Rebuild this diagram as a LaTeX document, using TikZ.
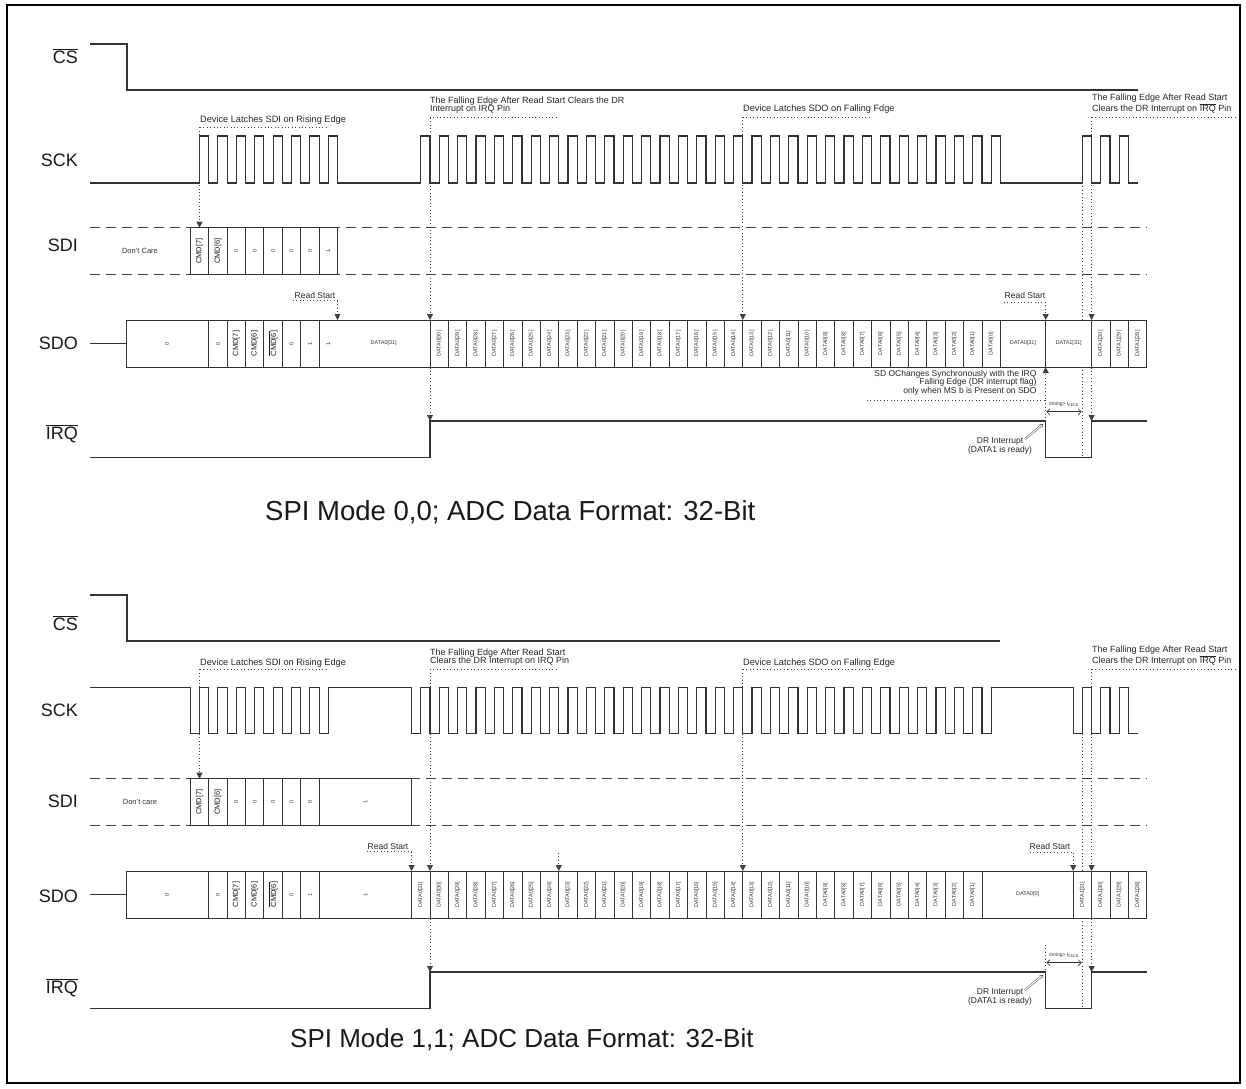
\documentclass[tikz,border=0pt]{standalone}
\usepackage{fontspec}
\setmainfont{Liberation Sans}
\usetikzlibrary{arrows.meta}

\tikzset{
  wave/.style={line width=1.1pt, black!80},
  cellline/.style={line width=0.9pt, black!80},
  dcline/.style={line width=1pt, black!75, dash pattern=on 10pt off 6pt},
  guide/.style={black!75, line width=0.8pt, dash pattern=on 0.8pt off 2.6pt},
  tipdown/.style={-{Triangle[length=6pt,width=6pt]}},
  note/.style={font=\fontsize{9}{8.4}\selectfont, text=black!85, inner sep=0pt, align=left},
  notert/.style={note, align=right},
  siglabel/.style={font=\fontsize{18}{20}\selectfont, text=black!90, anchor=east, inner sep=0pt},
  title/.style={font=\fontsize{26}{28}\selectfont, text=black!90, anchor=west, inner sep=0pt},
  bitlab/.style={rotate=90, font=\fontsize{5.5}{6}\selectfont, text=black!80, inner sep=0pt},
  cmdlab/.style={rotate=90, font=\fontsize{7.5}{8}\selectfont, text=black!90, inner sep=0pt},
  datalab/.style={font=\fontsize{5.5}{6}\selectfont, text=black!80, inner sep=0pt},
}

\begin{document}
\begin{tikzpicture}[x=1pt,y=-1pt]
  \useasboundingbox (0,0) rectangle (1246,1088);
  \draw[line width=1.6pt] (7,5) rectangle (1240,1083);

  % ---------- SPI mode 0,0 ----------
  \begin{scope}
    \node[siglabel] (cs0) at (78,56) {$\overline{\mbox{CS}}$};
    \node[siglabel] (sck0) at (78,160) {SCK};
    \node[siglabel] (sdi0) at (78,245) {SDI};
    \node[siglabel] (sdo0) at (78,343) {SDO};
    \node[siglabel] (irq0) at (78,434) {$\overline{\mbox{IRQ}}$};

    % CS and clock
    \draw[wave] (90,44) -| (127,90) -- (1138,90);
    \draw[wave] (90,183)
      \foreach \x in {199.5,217.9,...,329}{ -- (\x,183) -- (\x,136) -- ++(9.2,0) -- ++(0,47) }
      \foreach \x in {420.8,439.2,...,992}{ -- (\x,183) -- (\x,136) -- ++(9.2,0) -- ++(0,47) }
      \foreach \x in {1082.4,1100.8,1119.2}{ -- (\x,183) -- (\x,136) -- ++(9.2,0) -- ++(0,47) }
      -- (1138,183);

    % SDI
    \draw[dcline] (90,227.7) -- (1146.7,227.7) (90,274) -- (1146.7,274);
    \foreach \x in {190.3,208.7,...,320} \draw[cellline] (\x,227.7) rectangle ++(18.4,46.3);
    \node[datalab,font=\fontsize{7.5}{8}\selectfont] (dc0) at (140,251) {Don't Care};
    \foreach \i/\lab in {0/CMD[7],1/CMD[6]} \node[cmdlab] (sdic\i) at ({199.5+18.4*\i},251) {\lab};
    \foreach \i/\lab in {2/0,3/0,4/0,5/0,6/0,7/1} \node[bitlab] (sdib\i) at ({199.5+18.4*\i},251) {\lab};

    % SDO
    \draw[wave] (90,343.5) -- (126,343.5);
    \draw[cellline] (126,320) rectangle (1146.8,367);
    \foreach \x in {208.7,227.1,...,320} \draw[cellline] (\x,320) -- (\x,367);
    \foreach \x in {430,448.4,...,1001} \draw[cellline] (\x,320) -- (\x,367);
    \foreach \x in {1045.7,1091.6,1110,1128.4} \draw[cellline] (\x,320) -- (\x,367);
    \node[bitlab] (sdoz0) at (167,343.5) {0};
    \node[bitlab] (sdoz1) at (217.9,343.5) {0};
    \node[cmdlab] (sdoc7) at (236.3,343.5) {CMD[7]};
    \node[cmdlab] (sdoc6) at (254.7,343.5) {CMD[6]};
    \node[cmdlab] (sdon6) at (273.1,343.5) {$\overline{\mbox{CMD[6]}}$};
    \foreach \i/\lab in {0/0,1/1,2/1} \node[bitlab] (sdob\i) at ({291.5+18.4*\i},343.5) {\lab};
    \node[datalab] (d31a) at (383.7,343.5) {DATA0[31]};
    \foreach \k in {0,...,30}{
      \pgfmathtruncatemacro\n{30-\k}
      \node[bitlab] (d0b\k) at ({439.2+18.4*\k},343.5) {DATA0[\n]};
    }
    \node[datalab] (d31b) at (1023,343.5) {DATA0[31]};
    \node[datalab] (d131) at (1068.6,343.5) {DATA1[31]};
    \foreach \i/\n in {0/30,1/29,2/28} \node[bitlab] (d1b\i) at ({1100.8+18.4*\i},343.5) {DATA1[\n]};

    % IRQ
    \draw[wave] (90,457.7) -| (430,421) -| (1045.7,457.7) -| (1091.6,421) -- (1146.7,421);

    % annotations
    \node[note,anchor=west,font=\fontsize{9.2}{10}\selectfont] (lat0) at (200,120) {Device Latches SDI on Rising Edge};
    \draw[guide] (200,127.3) -- (329,127.3);
    \draw[guide,tipdown] (199.5,127.3) -- (199.5,227.7);

    \node[note,anchor=south west] (fe0) at (430,114) {The Falling Edge After Read Start Clears the DR\\Interrupt on IRQ Pin};
    \draw[guide] (430,117.7) -- (559,117.7);
    \draw[guide,tipdown] (430,117.7) -- (430,320);
    \draw[guide,tipdown] (430,320) -- (430,421);

    \node[note,anchor=west,font=\fontsize{9.2}{10}\selectfont] (lso0) at (743,109.3) {Device Latches SDO on Falling Fdge};
    \draw[guide] (743,117) -- (871.7,117);
    \draw[guide,tipdown] (742.8,117) -- (742.8,320);

    \node[note,anchor=south west] (fr0) at (1092,113.5) {The Falling Edge After Read Start\\Clears the DR Interrupt on $\overline{\mbox{IRQ}}$ Pin};
    \draw[guide] (1092,117.3) -- (1238,117.3);
    \draw[guide,tipdown] (1091.6,117.3) -- (1091.6,320);
    \draw[guide,tipdown] (1091.6,320) -- (1091.6,421);

    \draw[guide] (1082.4,183) -- (1082.4,320) (1082.4,367) -- (1082.4,457.7);

    \node[note,anchor=center,font=\fontsize{8.5}{9}\selectfont] (rs0) at (315,295) {Read Start};
    \draw[guide] (293,300.7) -- (337.5,300.7);
    \draw[guide,tipdown] (337.5,300.7) -- (337.5,320);

    \node[note,anchor=center,font=\fontsize{8.5}{9}\selectfont] (rs1) at (1025,295) {Read Start};
    \draw[guide] (1004,302) -- (1045.7,302);
    \draw[guide,tipdown] (1045.7,302) -- (1045.7,320);

    \node[notert,anchor=north east,font=\fontsize{8.5}{8.4}\selectfont] (sync0) at (1036.7,370) {SD OChanges Synchronously with the IRQ\\Falling Edge (DR interrupt flag)\\only when MS b is Present on SDO};
    \draw[guide,tipdown] (866.7,400) -| (1045.7,367);
    \draw[guide] (1045.7,400) -- (1045.7,421);

    \node[note,align=center,anchor=center,font=\fontsize{8.5}{8.6}\selectfont] (dr0) at (1000,446) {DR Interrupt\\(DATA1 is ready)};
    \draw[black!80, double, double distance=1.1pt, line width=0.4pt, -{Implies}] (1025,439) -- (1043,424);
    \draw[black!80, line width=0.6pt, {Straight Barb[length=3pt]}-{Straight Barb[length=3pt]}] (1046.5,411.7) -- (1081.6,411.7);
    \node[datalab,font=\fontsize{5}{5}\selectfont] (tm0) at (1064,404) {timing> t\textsubscript{cccs}};

    \node[title,font=\fontsize{27.5}{29}\selectfont] (ttl0) at (265,512) {SPI Mode 0,0; ADC Data Format: 32-Bit};
  \end{scope}

  % ---------- SPI mode 1,1 ----------
  \begin{scope}[shift={(0,551)}]
    \node[siglabel] (cs1) at (78,72) {$\overline{\mbox{CS}}$};
    \node[siglabel] (sck1) at (78,159) {SCK};
    \node[siglabel] (sdi1) at (78,250) {SDI};
    \node[siglabel] (sdo1) at (78,345) {SDO};
    \node[siglabel] (irq1) at (78,437) {$\overline{\mbox{IRQ}}$};

    % CS and clock
    \draw[wave] (90,44) -| (127,90) -- (1000,90);
    \draw[wave] (90,136.5)
      \foreach \x in {190.3,208.7,...,320}{ -- (\x,136.5) -- (\x,182.5) -- ++(9.2,0) -- ++(0,-46) }
      \foreach \x in {411.6,430,...,983}{ -- (\x,136.5) -- (\x,182.5) -- ++(9.2,0) -- ++(0,-46) }
      \foreach \x in {1073.2,1091.6,1110}{ -- (\x,136.5) -- (\x,182.5) -- ++(9.2,0) -- ++(0,-46) }
      -- (1128.4,136.5) -- (1128.4,182.5) -- (1138,182.5);

    % SDI
    \draw[dcline] (90,227.7) -- (1146.7,227.7) (90,274) -- (1146.7,274);
    \foreach \x in {190.3,208.7,...,310} \draw[cellline] (\x,227.7) rectangle ++(18.4,46.3);
    \draw[cellline] (319.1,227.7) rectangle (411.6,274);
    \node[datalab,font=\fontsize{7.5}{8}\selectfont] (dc1) at (140,251) {Don't care};
    \foreach \i/\lab in {0/CMD[7],1/CMD[6]} \node[cmdlab] (sdid\i) at ({199.5+18.4*\i},251) {\lab};
    \foreach \i in {2,...,6} \node[bitlab] (sdie\i) at ({199.5+18.4*\i},251) {0};
    \node[bitlab] (sdie7) at (365.4,251) {1};

    % SDO
    \draw[wave] (90,343.5) -- (126,343.5);
    \draw[cellline] (126,320) rectangle (1146.8,367);
    \foreach \x in {208.7,227.1,...,320} \draw[cellline] (\x,320) -- (\x,367);
    \foreach \x in {411.6,430,...,983} \draw[cellline] (\x,320) -- (\x,367);
    \foreach \x in {1073.2,1091.6,1110,1128.4} \draw[cellline] (\x,320) -- (\x,367);
    \node[bitlab] (sdpz0) at (167,343.5) {0};
    \node[bitlab] (sdpz1) at (217.9,343.5) {0};
    \node[cmdlab] (sdpc7) at (236.3,343.5) {CMD[7]};
    \node[cmdlab] (sdpc6) at (254.7,343.5) {CMD[6]};
    \node[cmdlab] (sdpn6) at (273.1,343.5) {$\overline{\mbox{CMD[6]}}$};
    \node[bitlab] (sdpb0) at (291.5,343.5) {0};
    \node[bitlab] (sdpb1) at (309.9,343.5) {1};
    \node[bitlab] (sdpb2) at (365.4,343.5) {1};
    \foreach \k in {0,...,30}{
      \pgfmathtruncatemacro\n{31-\k}
      \node[bitlab] (e0b\k) at ({420.8+18.4*\k},343.5) {DATA0[\n]};
    }
    \node[datalab] (e00) at (1027.6,343.5) {DATA0[0]};
    \foreach \i/\n in {0/31,1/30,2/29,3/28} \node[bitlab] (e1b\i) at ({1082.4+18.4*\i},343.5) {DATA1[\n]};

    % IRQ
    \draw[wave] (90,457.7) -| (430,421) -| (1045.7,457.7) -| (1091.6,421) -- (1146.7,421);

    % annotations
    \node[note,anchor=west,font=\fontsize{9.2}{10}\selectfont] (lat1) at (200,112.3) {Device Latches SDI on Rising Edge};
    \draw[guide] (200,118.3) -- (328,118.3);
    \draw[guide,tipdown] (199.5,118.3) -- (199.5,227.7);

    \node[note,anchor=south west] (fe1) at (430,115) {The Falling Edge After Read Start\\Clears the DR Interrupt on IRQ Pin};
    \draw[guide] (430,118.3) -- (559,118.3);
    \draw[guide,tipdown] (430,118.3) -- (430,320);
    \draw[guide,tipdown] (430,320) -- (430,421);
    \draw[guide,tipdown] (558.8,302) -- (558.8,320);

    \node[note,anchor=west,font=\fontsize{9.2}{10}\selectfont] (lso1) at (743,112.3) {Device Latches SDO on Falling Edge};
    \draw[guide] (743,118.3) -- (873,118.3);
    \draw[guide,tipdown] (742.8,118.3) -- (742.8,320);

    \node[note,anchor=south west] (fr1) at (1092,114.5) {The Falling Edge After Read Start\\Clears the DR Interrupt on $\overline{\mbox{IRQ}}$ Pin};
    \draw[guide] (1092,118) -- (1238,118);
    \draw[guide,tipdown] (1091.6,118) -- (1091.6,320);
    \draw[guide,tipdown] (1091.6,320) -- (1091.6,421);

    \draw[guide] (1082.4,182.5) -- (1082.4,320) (1082.4,367) -- (1082.4,457.7);

    \node[note,anchor=center,font=\fontsize{8.5}{9}\selectfont] (rs2) at (388,295.7) {Read Start};
    \draw[guide] (367,300.7) -- (411.6,300.7);
    \draw[guide,tipdown] (411.6,300.7) -- (411.6,320);

    \node[note,anchor=center,font=\fontsize{8.5}{9}\selectfont] (rs3) at (1050,295.7) {Read Start};
    \draw[guide] (1030,301.7) -- (1073.2,301.7);
    \draw[guide,tipdown] (1073.2,301.7) -- (1073.2,320);

    \draw[guide] (1045.7,394) -- (1045.7,421);

    \node[note,align=center,anchor=center,font=\fontsize{8.5}{8.6}\selectfont] (dr1) at (1000,446) {DR Interrupt\\(DATA1 is ready)};
    \draw[black!80, double, double distance=1.1pt, line width=0.4pt, -{Implies}] (1025,439) -- (1043,424);
    \draw[black!80, line width=0.6pt, {Straight Barb[length=3pt]}-{Straight Barb[length=3pt]}] (1046.5,411.7) -- (1081.6,411.7);
    \node[datalab,font=\fontsize{5}{5}\selectfont] (tm1) at (1064,404) {timing> t\textsubscript{cccs}};

    \node[title] (ttl1) at (290,489) {SPI Mode 1,1; ADC Data Format: 32-Bit};
  \end{scope}
\end{tikzpicture}
\end{document}
